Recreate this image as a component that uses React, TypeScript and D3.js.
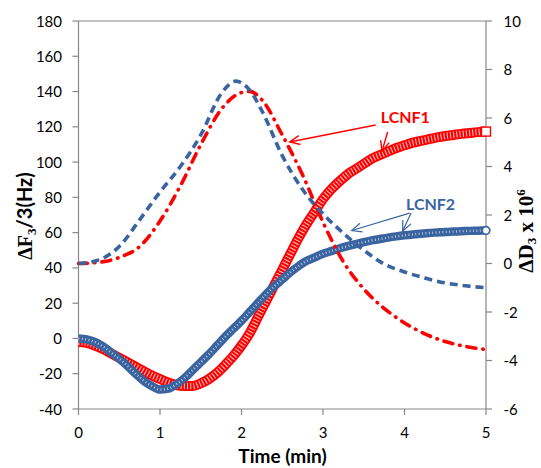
import React from "react";
import * as d3 from "d3";

const W = 541;
const H = 468;
const margin = { top: 21, right: 55, bottom: 59, left: 78.5 };

// axis ticks
const timeTicks = [0, 1, 2, 3, 4, 5];
const freqTicks = [-40, -20, 0, 20, 40, 60, 80, 100, 120, 140, 160, 180];
const dissTicks = [-6, -4, -2, 0, 2, 4, 6, 8, 10];

// frequency shift dF3/3 (Hz), one sample every 0.1 min from t = 0
const freqStep = 0.1;
const lcnf1Freq = [
  -2, -2.5, -4, -6, -8.5, -11, -13.5, -16, -18.5, -21, -23, -25, -26.5, -27, -27,
  -25.5, -23, -19.5, -15, -10, -4, 3, 12, 21, 30, 39, 48, 57, 65, 72, 79, 84.5, 89,
  93, 96, 99, 102, 104, 106, 108, 109.5, 111, 112, 113, 114, 114.8, 115.4, 116,
  116.5, 117, 117.3,
];
const lcnf2Freq = [
  0, -0.5, -2, -4.5, -8, -11.5, -15.5, -20, -24, -27, -29, -28.5, -26, -22.5, -18,
  -13.5, -9, -4, 1, 5.5, 10, 15, 20, 25, 29.5, 33.5, 37.5, 41, 44, 46, 48, 49.5, 51,
  52.3, 53.5, 54.6, 55.6, 56.4, 57.2, 57.9, 58.5, 59, 59.4, 59.8, 60.1, 60.4, 60.6,
  60.8, 61, 61.1, 61.2,
];

// dissipation shift dD3 (x 10^6)
const lcnf1DissTime = [0, 0.25, 0.5, 0.75, 1, 1.25, 1.5, 1.75, 2, 2.1, 2.25, 2.5, 2.75, 3, 3.25, 3.5, 3.75, 4, 4.25, 4.5, 4.75, 5];
const lcnf1Diss = [0, 0.05, 0.25, 0.7, 1.75, 3.2, 4.9, 6.35, 7.05, 7.1, 6.75, 5.3, 3.65, 1.7, 0.07, -1.05, -1.85, -2.45, -2.9, -3.22, -3.42, -3.55];
const lcnf2DissTime = [0, 0.25, 0.5, 0.75, 1, 1.25, 1.5, 1.75, 1.93, 2.1, 2.25, 2.5, 2.75, 3, 3.25, 3.5, 3.75, 4, 4.25, 4.5, 4.75, 5];
const lcnf2Diss = [0, 0.15, 0.7, 1.8, 2.95, 4.0, 5.3, 7.0, 7.52, 7.15, 6.3, 4.45, 3.05, 2.05, 1.25, 0.55, -0.02, -0.35, -0.6, -0.8, -0.92, -1.0];

// callouts, in data units (time, left-axis Hz)
const labels = [
  { text: "LCNF1", t: 4.01, v: 122.2, color: "#ff0000" },
  { text: "LCNF2", t: 4.32, v: 72.8, color: "#3a64a0" },
];
const arrows = [
  { t0: 3.646, v0: 121.0, t1: 2.592, v1: 111.4, color: "#ff0000", w: 1.4 },
  { t0: 3.793, v0: 117.1, t1: 3.725, v1: 106.3, color: "#ff0000", w: 1.4 },
  { t0: 4.063, v0: 71.1, t1: 3.352, v1: 61.2, color: "#3a64a0", w: 1.2 },
  { t0: 4.081, v0: 71.1, t1: 3.977, v1: 60.9, color: "#3a64a0", w: 1.2 },
];

const RED = "#ff0000";
const BLUE = "#3a64a0";
const AXIS = "#878787";
const SANS = "Lato, 'Open Sans', sans-serif";
const SERIF = "'Liberation Serif', 'DejaVu Serif', serif";

type Pt = { t: number; v: number };

export default function App() {
  const x = d3.scaleLinear().domain([0, 5]).range([margin.left, W - margin.right]);
  const yL = d3.scaleLinear().domain([-40, 180]).range([H - margin.bottom, margin.top]);
  const yR = d3.scaleLinear().domain([-6, 10]).range([H - margin.bottom, margin.top]);

  const x0 = x(0);
  const x1 = x(5);
  const yTop = yL(180);
  const yBot = yL(-40);

  const f1: Pt[] = lcnf1Freq.map((v, i) => ({ t: i * freqStep, v }));
  const f2: Pt[] = lcnf2Freq.map((v, i) => ({ t: i * freqStep, v }));
  const d1: Pt[] = lcnf1DissTime.map((t, i) => ({ t, v: lcnf1Diss[i] }));
  const d2: Pt[] = lcnf2DissTime.map((t, i) => ({ t, v: lcnf2Diss[i] }));

  const dissLine = d3
    .line<Pt>()
    .x((d) => x(d.t))
    .y((d) => yR(d.v))
    .curve(d3.curveMonotoneX);

  // the densely packed markers read as a band along the data
  const freqLine = d3
    .line<Pt>()
    .x((d) => x(d.t))
    .y((d) => yL(d.v))
    .curve(d3.curveMonotoneX);

  const last1 = f1[f1.length - 1];
  const last2 = f2[f2.length - 1];

  const arrowHead = (a: typeof arrows[number]) => {
    const px0 = x(a.t0), py0 = yL(a.v0), px1 = x(a.t1), py1 = yL(a.v1);
    const ang = Math.atan2(py0 - py1, px0 - px1);
    const len = 11, spread = 0.42;
    const p1 = [px1 + len * Math.cos(ang + spread), py1 + len * Math.sin(ang + spread)];
    const p2 = [px1 + len * Math.cos(ang - spread), py1 + len * Math.sin(ang - spread)];
    return `M${p1[0]},${p1[1]}L${px1},${py1}L${p2[0]},${p2[1]}`;
  };

  return (
    <svg width={W} height={H} style={{ position: "absolute", left: 0, top: 0, background: "#fff" }}>
      {/* frame */}
      <line x1={x0} x2={x1} y1={yTop} y2={yTop} stroke={AXIS} strokeWidth={1.2} />
      <line x1={x0} x2={x1} y1={yBot} y2={yBot} stroke={AXIS} strokeWidth={1.2} />
      <line x1={x0} x2={x0} y1={yTop} y2={yBot} stroke={AXIS} strokeWidth={1.2} />
      <line x1={x1} x2={x1} y1={yTop} y2={yBot} stroke={AXIS} strokeWidth={1.2} />

      {/* left axis */}
      {freqTicks.map((v) => (
        <g key={"l" + v}>
          <line x1={x0 - 6} x2={x0} y1={yL(v)} y2={yL(v)} stroke={AXIS} strokeWidth={1.2} />
          <text x={62} y={yL(v) + 5.5} textAnchor="end" fontFamily={SANS} fontSize={15} fill="#000">
            {v}
          </text>
        </g>
      ))}

      {/* right axis */}
      {dissTicks.map((v) => (
        <g key={"r" + v}>
          <line x1={x1} x2={x1 + 6} y1={yR(v)} y2={yR(v)} stroke={AXIS} strokeWidth={1.2} />
          <text x={503.5} y={yR(v) + 5.5} textAnchor="start" fontFamily={SANS} fontSize={15} fill="#000">
            {v}
          </text>
        </g>
      ))}

      {/* bottom axis */}
      {timeTicks.map((t) => (
        <g key={"b" + t}>
          <line x1={x(t)} x2={x(t)} y1={yBot} y2={yBot + 6} stroke={AXIS} strokeWidth={1.2} />
          <text x={x(t)} y={438} textAnchor="middle" fontFamily={SANS} fontSize={15} fill="#000">
            {t}
          </text>
        </g>
      ))}

      {/* axis titles */}
      <text x={282.5} y={463} textAnchor="middle" fontFamily={SANS} fontWeight="bold" fontSize={19} fill="#000">
        Time (min)
      </text>
      <text
        transform="translate(32,216) rotate(-90)"
        textAnchor="middle"
        fontWeight="bold"
        fontSize={20}
        fill="#000"
      >
        <tspan fontFamily={SERIF}>ΔF</tspan>
        <tspan fontFamily={SERIF} fontSize={13} dy={4}>3</tspan>
        <tspan fontFamily={SANS} dy={-4}>/3(Hz)</tspan>
      </text>
      <text
        transform="translate(533,231) rotate(-90)"
        textAnchor="middle"
        fontFamily={SERIF}
        fontWeight="bold"
        fontSize={21}
        fill="#000"
      >
        <tspan>ΔD</tspan>
        <tspan fontSize={13} dy={3}>3</tspan>
        <tspan dy={-3}> x 10</tspan>
        <tspan fontSize={13} dy={-8}>6</tspan>
      </text>

      {/* LCNF1 frequency: packed hollow squares */}
      <path d={freqLine(f1) ?? ""} fill="none" stroke={RED} strokeWidth={10} />
      <path d={freqLine(f1) ?? ""} fill="none" stroke="#fff" strokeOpacity={0.8} strokeWidth={6.5} strokeDasharray="1,2.2" />
      <rect
        x={x(last1.t) - 4.5}
        y={yL(last1.v) - 4.5}
        width={9}
        height={9}
        fill="#fff"
        stroke={RED}
        strokeWidth={1.4}
      />

      {/* LCNF2 frequency: packed hollow circles */}
      <path d={freqLine(f2) ?? ""} fill="none" stroke={BLUE} strokeWidth={8.5} />
      <path
        d={freqLine(f2) ?? ""}
        fill="none"
        stroke="#fff"
        strokeOpacity={0.75}
        strokeWidth={2.4}
        strokeDasharray="0.8,2.6"
      />
      <circle cx={x(last2.t)} cy={yL(last2.v)} r={3.8} fill="#fff" stroke={BLUE} strokeWidth={1.8} />

      {/* dissipation lines */}
      <path
        d={dissLine(d1) ?? ""}
        fill="none"
        stroke={RED}
        strokeWidth={3.6}
        strokeDasharray="9,7,0.5,7"
        strokeLinecap="round"
      />
      <path d={dissLine(d2) ?? ""} fill="none" stroke={BLUE} strokeWidth={3.6} strokeDasharray="8,5" />

      {/* callouts */}
      {arrows.map((a, i) => (
        <g key={"a" + i} stroke={a.color} strokeWidth={a.w} fill="none">
          <line x1={x(a.t0)} y1={yL(a.v0)} x2={x(a.t1)} y2={yL(a.v1)} />
          <path d={arrowHead(a)} />
        </g>
      ))}
      {labels.map((l) => (
        <text
          key={l.text}
          x={x(l.t)}
          y={yL(l.v)}
          textAnchor="middle"
          fontFamily={SANS}
          fontWeight="bold"
          fontSize={16}
          fill={l.color}
        >
          {l.text}
        </text>
      ))}
    </svg>
  );
}
